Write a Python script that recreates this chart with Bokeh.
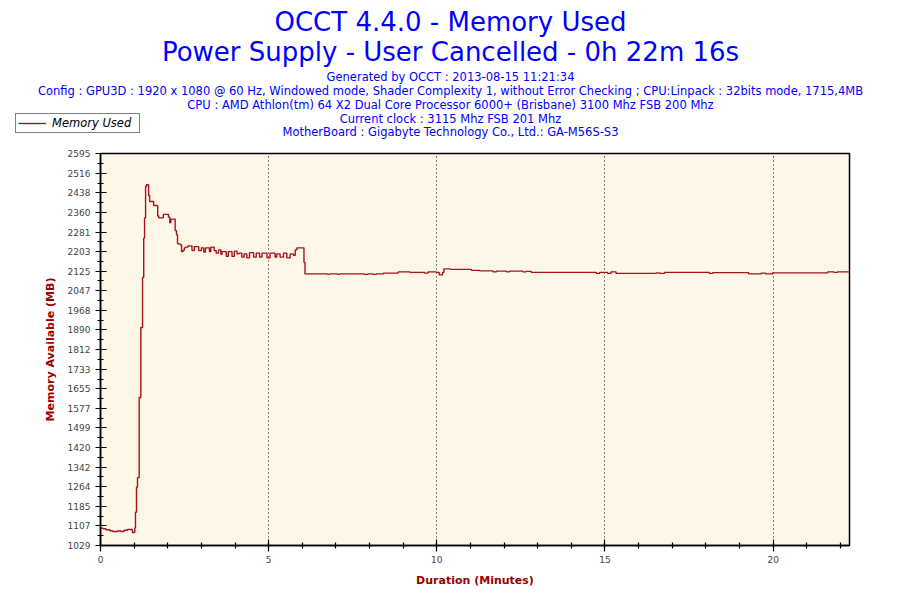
from bokeh.plotting import figure
from bokeh.layouts import column
from bokeh.models import Range1d, FixedTicker, Label, Legend, LegendItem, ColumnDataSource
from bokeh.embed import file_html
from bokeh.resources import INLINE

# ---------------- data ----------------
title_lines = ["OCCT 4.4.0 - Memory Used",
               "Power Supply - User Cancelled - 0h 22m 16s"]
info_lines = ["Generated by OCCT : 2013-08-15 11:21:34",
              "Config : GPU3D : 1920 x 1080 @ 60 Hz, Windowed mode, Shader Complexity 1, without Error Checking ; CPU:Linpack : 32bits mode, 1715,4MB",
              "CPU : AMD Athlon(tm) 64 X2 Dual Core Processor 6000+ (Brisbane) 3100 Mhz FSB 200 Mhz",
              "Current clock : 3115 Mhz FSB 201 Mhz",
              "MotherBoard : Gigabyte Technology Co., Ltd.: GA-M56S-S3"]
series_name = "Memory Used"
x_label = "Duration (Minutes)"
y_label = "Memory Available (MB)"

x_min, x_max = 0, 22.27
y_min, y_max = 1029, 2595
x_ticks = [0, 5, 10, 15, 20]
x_grid = [5, 10, 15, 20]
y_ticks = [1029, 1107, 1185, 1264, 1342, 1420, 1499, 1577, 1655, 1733, 1812,
           1890, 1968, 2047, 2125, 2203, 2281, 2360, 2438, 2516, 2595]

t_min = [0.00, 0.08, 0.16, 0.28, 0.36, 0.50, 0.60, 0.70, 0.80, 0.95, 1.02, 1.04,
         1.07, 1.10, 1.15, 1.20, 1.25, 1.285, 1.31, 1.34, 1.37, 1.43, 1.46, 1.58,
         1.70, 1.73, 1.87, 2.02, 2.06, 2.09, 2.22, 2.26, 2.29, 2.37, 2.41, 2.45,
         2.49, 2.52, 2.60, 2.72, 2.79, 2.92, 3.00, 3.07, 3.12, 3.24, 3.28, 3.38,
         3.44, 3.51, 3.58, 3.61, 3.74, 3.80, 3.91, 3.98, 4.06, 4.12, 4.20, 4.27,
         4.35, 4.43, 4.55, 4.63, 4.73, 4.80, 4.95, 5.04, 5.19, 5.24, 5.34, 5.44,
         5.54, 5.64, 5.74, 5.79, 5.84, 6.05, 6.08, 6.75, 6.80, 7.05, 7.10, 7.85,
         7.95, 8.10, 8.20, 8.41, 8.85, 9.20, 9.64, 9.74, 9.99, 10.07, 10.17, 10.21,
         10.40, 11.03, 11.28, 11.67, 11.77, 12.07, 12.15, 12.56, 12.65, 12.81, 14.74, 14.84,
         15.08, 15.18, 15.33, 16.52, 16.62, 16.77, 18.10, 18.20, 19.27, 19.64, 19.78, 19.98,
         21.62, 21.81, 21.91, 22.27]
mem_mb = [1098, 1096, 1092, 1088, 1085, 1087, 1085, 1090, 1093, 1081, 1100, 1162,
          1262, 1300, 1620, 1900, 2100, 2257, 2338, 2463, 2470, 2427, 2403, 2387,
          2346, 2338, 2352, 2341, 2318, 2333, 2287, 2270, 2234, 2230, 2203, 2207,
          2217, 2221, 2226, 2207, 2223, 2207, 2218, 2201, 2218, 2203, 2221, 2207,
          2197, 2210, 2192, 2203, 2184, 2203, 2184, 2205, 2194, 2197, 2181, 2194,
          2178, 2199, 2181, 2197, 2181, 2197, 2178, 2197, 2181, 2194, 2181, 2197,
          2178, 2194, 2188, 2210, 2218, 2160, 2114, 2112, 2114, 2112, 2114, 2112,
          2114, 2112, 2114, 2117, 2122, 2120, 2117, 2122, 2120, 2110, 2120, 2134,
          2132, 2128, 2126, 2122, 2125, 2122, 2125, 2122, 2124, 2120, 2116, 2120,
          2116, 2122, 2116, 2118, 2116, 2120, 2116, 2119, 2114, 2117, 2114, 2118,
          2122, 2120, 2122, 2122]

# ---------------- styles / layout ----------------
FONT = "DejaVu Sans"
LINE_COLOR = "#a3141e"
AXIS_LABEL_COLOR = "#990000"
TICK_COLOR = "#444444"
BLUE = "#0000ff"

W = 890
HH = 140                 # header height
HM = 455                 # main plot height
BL, BR, BT, BB = 100, 41, 13, 50

src = ColumnDataSource(dict(t=t_min, mem=mem_mb))

# ---------- header (titles + legend) ----------
hdr = figure(width=W, height=HH, output_backend="svg", toolbar_location=None,
             x_range=Range1d(0, W), y_range=Range1d(0, HH),
             x_axis_type=None, y_axis_type=None, min_border=0)
hdr.outline_line_color = None
hdr.background_fill_color = "white"
hdr.border_fill_color = "white"
hdr.xgrid.visible = False
hdr.ygrid.visible = False

cx = 450
text_rows = [(title_lines[0], 21, "26px"), (title_lines[1], 51, "26px")] + \
            [(t, yy, "11.5px") for t, yy in zip(info_lines, [76, 90, 104, 118, 131])]
for txt, ypx, size in text_rows:
    hdr.add_layout(Label(x=cx, y=HH - ypx, text=txt,
                         text_align="center", text_baseline="middle", text_font=FONT,
                         text_font_size=size, text_color=BLUE))

# renderer for the legend sample only (hidden; the data lies outside the header range)
hr = hdr.step(x="t", y="mem", source=src, mode="after",
              line_color=LINE_COLOR, line_width=1.4, visible=False)
legend = Legend(items=[LegendItem(label=series_name, renderers=[hr])],
                location=(15, HH - 133), border_line_color="black", border_line_width=1,
                background_fill_color="white", background_fill_alpha=1,
                label_text_font=FONT, label_text_font_size="11.5px",
                label_text_font_style="italic", label_text_color="black",
                glyph_width=28, glyph_height=14, label_height=14, label_width=85,
                label_standoff=6, padding=2, spacing=0, margin=0)
hdr.add_layout(legend, "center")

# ---------- main plot ----------
p = figure(width=W, height=HM, output_backend="svg", toolbar_location=None,
           x_range=Range1d(x_min, x_max), y_range=Range1d(y_min, y_max),
           min_border_left=BL, min_border_right=BR, min_border_top=BT, min_border_bottom=BB)
p.background_fill_color = "#fef7e8"
p.border_fill_color = "white"
p.outline_line_color = "black"
p.outline_line_width = 1.5

for fig in (hdr, p):
    try:
        fig.frame_align = False
    except Exception:
        pass

r = p.step(x="t", y="mem", source=src, mode="after", line_color=LINE_COLOR, line_width=1.4)

xa = p.xaxis[0]
xa.ticker = FixedTicker(ticks=x_ticks, minor_ticks=list(range(0, 23)))
xa.major_tick_in = 6
xa.major_tick_out = 6
xa.minor_tick_in = 3
xa.minor_tick_out = 3
xa.axis_line_width = 1.5
xa.major_tick_line_width = 1.2
xa.minor_tick_line_width = 1.2
xa.major_label_text_font = FONT
xa.major_label_text_font_size = "9px"
xa.major_label_text_color = TICK_COLOR
xa.major_label_standoff = 4
xa.axis_label = x_label
xa.axis_label_text_font = FONT
xa.axis_label_text_font_size = "11px"
xa.axis_label_text_font_style = "bold"
xa.axis_label_text_color = AXIS_LABEL_COLOR
xa.axis_label_standoff = 8

ya = p.yaxis[0]
y_minor = [(a + b) / 2 for a, b in zip(y_ticks[:-1], y_ticks[1:])]
ya.ticker = FixedTicker(ticks=y_ticks, minor_ticks=y_minor)
ya.major_tick_in = 6
ya.major_tick_out = 5
ya.minor_tick_in = 3
ya.minor_tick_out = 3
ya.axis_line_width = 1.5
ya.major_tick_line_width = 1.2
ya.minor_tick_line_width = 1.2
ya.major_label_text_font = FONT
ya.major_label_text_font_size = "9px"
ya.major_label_text_color = TICK_COLOR
ya.major_label_standoff = 5
ya.major_label_overrides = {v: str(v) for v in y_ticks}
ya.axis_label = y_label
ya.axis_label_text_font = FONT
ya.axis_label_text_font_size = "11px"
ya.axis_label_text_font_style = "bold"
ya.axis_label_text_color = AXIS_LABEL_COLOR
ya.axis_label_standoff = 8

p.ygrid.visible = False
p.xgrid.ticker = FixedTicker(ticks=x_grid)
p.xgrid.grid_line_color = "black"
p.xgrid.grid_line_dash = "1 3"
p.xgrid.grid_line_width = 1

layout = column(hdr, p, spacing=0)
open("out.html", "w").write(file_html(layout, INLINE))
